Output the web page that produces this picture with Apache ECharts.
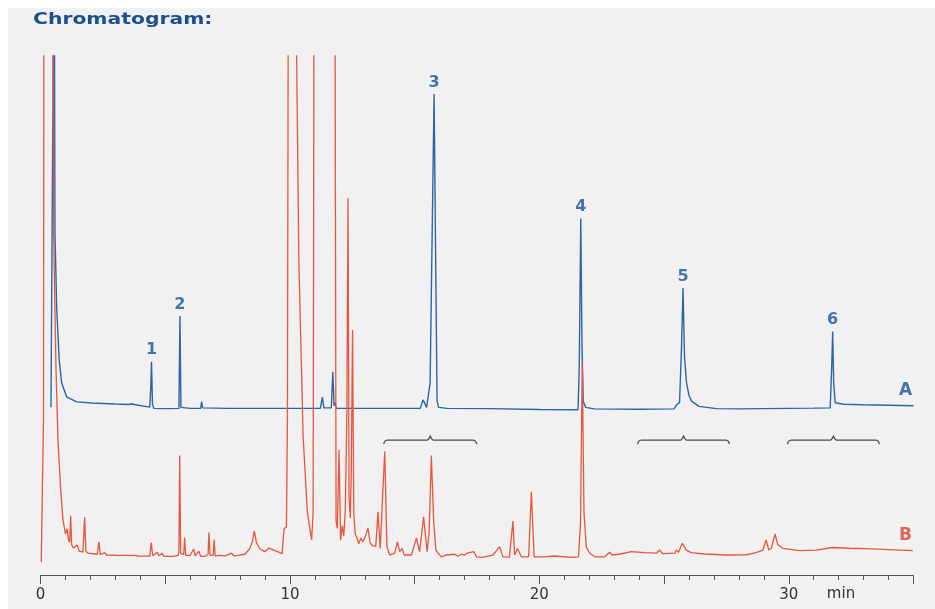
<!DOCTYPE html>
<html><head><meta charset="utf-8">
<script src="https://cdn.jsdelivr.net/npm/echarts@6/dist/echarts.min.js"></script>
<style>html,body{margin:0;padding:0;background:#fff}#c{width:935px;height:609px}</style>
</head><body><div id="c"></div>
<script>
// Trace A (blue): [time (min), signal above its own baseline]
const traceA = [
[0.42,0.3],[0.47,0.3],[0.5,60],[0.53,130],[0.56,130],[0.58,34],[0.65,19.3],[0.75,9.4],[0.85,5.0],[1.05,2.3],[1.45,1.35],[2.05,1.15],[3.0,0.95],[3.55,0.85],[3.65,1.0],[3.8,0.8],[4.38,0.35],[4.42,4],[4.45,9.1],[4.49,0.8],[4.55,0.1],[5.0,0.05],[5.55,0.1],[5.59,17.9],[5.63,0.3],[6.0,0.1],[6.42,0.1],[6.46,1.4],[6.5,0.2],[7.5,0.1],[8.96,0.1],[9.0,0.45],[9.04,0.1],[10.7,0.1],[10.73,0.45],[10.76,0.1],[11.22,0.1],[11.3,2.3],[11.36,0.2],[11.66,0.2],[11.72,7.1],[11.77,0.6],[11.81,1.2],[11.86,0.1],[13.0,0.1],[15.22,0.1],[15.34,1.74],[15.48,0.3],[15.56,0.4],[15.62,5],[15.72,40],[15.78,60.7],[15.84,30],[15.9,1.5],[15.96,0.3],[16.3,0.1],[18.0,0.05],[20.0,-0.1],[21.55,-0.15],[21.6,8],[21.66,36.7],[21.71,12],[21.76,1.4],[21.86,0.3],[22.2,0.0],[24.0,-0.05],[25.4,0.0],[25.5,0.8],[25.55,0.5],[25.62,1.2],[25.7,12],[25.76,23.3],[25.82,10],[25.9,5],[26.0,2.6],[26.1,1.5],[26.4,0.5],[27.1,0.05],[28.0,0.0],[30.0,0.1],[31.0,0.15],[31.66,0.2],[31.72,8],[31.76,14.9],[31.8,5],[31.86,1.2],[32.2,0.9],[33.0,0.8],[34.0,0.7],[35.0,0.6]
];
// Trace B (red): [time (min), signal]
const traceB = [
[0.03,2.5],[0.09,2.6],[0.12,30],[0.14,130],[0.5,130],[0.53,65],[0.62,40],[0.7,26],[0.81,16.4],[0.9,10.6],[1.0,7.9],[1.07,8.9],[1.12,6.8],[1.17,6.3],[1.21,11.4],[1.25,5.8],[1.32,5.2],[1.4,5.0],[1.47,5.8],[1.55,4.6],[1.7,4.4],[1.77,11.1],[1.82,4.6],[1.9,4.2],[2.28,4.0],[2.34,6.4],[2.4,3.9],[2.57,4.3],[2.65,3.85],[3.13,3.8],[3.2,3.7],[3.77,3.8],[3.9,3.66],[4.38,3.65],[4.44,6.25],[4.5,3.7],[4.68,4.4],[4.75,3.7],[4.87,4.2],[4.95,3.6],[5.3,3.6],[5.52,3.8],[5.55,4.6],[5.58,23.0],[5.62,4.2],[5.74,3.9],[5.78,7.2],[5.82,3.8],[6.0,3.8],[6.14,5.0],[6.2,3.7],[6.35,4.6],[6.42,3.6],[6.6,3.6],[6.72,4.0],[6.75,8.2],[6.8,3.8],[6.92,3.8],[6.96,6.8],[7.0,3.7],[7.19,3.8],[7.4,3.7],[7.66,4.2],[7.75,3.7],[7.93,3.8],[8.2,4.0],[8.39,5.1],[8.5,6.5],[8.57,8.5],[8.66,6.2],[8.8,5.0],[8.99,4.5],[9.08,4.8],[9.15,5.2],[9.25,5.0],[9.4,4.7],[9.6,4.3],[9.69,4.1],[9.74,7.5],[9.77,9.0],[9.86,9.2],[9.9,30],[9.94,130],[10.2,130],[10.36,60],[10.53,26.6],[10.7,12],[10.87,6.75],[10.93,12],[10.97,130],[11.8,130],[11.85,10.3],[11.9,9.0],[11.97,24.1],[12.03,6.7],[12.1,9.5],[12.16,7.5],[12.22,12.5],[12.28,30],[12.33,72.6],[12.37,15],[12.42,11],[12.46,20],[12.51,47.2],[12.56,12],[12.62,7.8],[12.67,7.4],[12.76,6.0],[12.84,7.1],[12.93,6.4],[13.02,7.4],[13.13,9.0],[13.22,6.1],[13.33,5.6],[13.44,5.5],[13.53,12.2],[13.62,5.1],[13.69,4.8],[13.8,23.8],[13.89,5.45],[14.0,3.85],[14.2,4.2],[14.31,6.4],[14.4,4.5],[14.5,5.1],[14.58,3.85],[14.87,3.85],[15.07,7.1],[15.2,4.5],[15.36,11.2],[15.5,4.5],[15.58,8.0],[15.67,23.0],[15.76,10.6],[15.85,4.8],[15.94,4.2],[16.07,3.5],[16.27,3.85],[16.6,4.0],[16.73,3.6],[16.87,4.0],[17.0,3.85],[17.1,4.2],[17.37,4.5],[17.48,3.5],[17.7,3.4],[18.14,3.85],[18.41,5.45],[18.54,3.5],[18.8,3.45],[18.94,10.4],[19.01,3.85],[19.12,5.1],[19.17,5.1],[19.28,3.5],[19.57,3.5],[19.68,16.05],[19.79,3.5],[20.2,3.5],[20.61,3.66],[21.28,3.4],[21.57,3.5],[21.65,10],[21.72,41],[21.79,12],[21.88,5.45],[22.02,4.2],[22.22,3.5],[22.62,3.5],[22.82,4.4],[22.91,3.85],[23.2,4.0],[23.69,4.5],[24.22,4.3],[24.69,4.2],[24.82,4.8],[24.95,4.1],[25.43,4.2],[25.49,4.8],[25.58,4.4],[25.73,6.1],[25.89,4.8],[26.09,4.3],[26.62,4.05],[27.5,3.85],[28.3,3.9],[28.69,4.3],[28.96,4.8],[29.09,6.75],[29.2,4.8],[29.3,5.15],[29.45,7.9],[29.56,5.8],[29.76,5.15],[30.43,4.7],[31.1,4.8],[31.76,5.3],[32.43,5.15],[33.1,5.1],[33.77,4.95],[34.97,4.7]
];
const OFFSET_A = 32;
const peakTimes = [4.45, 5.59, 15.78, 21.66, 25.76, 31.76];
const peakNames = ['1', '2', '3', '4', '5', '6'];
const traceNames = ['A', 'B'];
const traceLabelTime = 34.68;
const bracketRanges = [[13.76, 17.49], [23.94, 27.62], [29.95, 33.63]];
const bracketLevel = 26;
const xLabelValues = [0, 10, 20, 30];
const xMin = 0, xMax = 35, yMin = 0, yMax = 100;

const BLUE = '#2d64a8', BLUE_TXT = '#1b5296', RED = '#e8553f', RED_TXT = '#e2402b';

const dataA = traceA.map(p => [p[0], p[1] + OFFSET_A]);
const dataB = traceB.map(p => [p[0], p[1]]);

function valueAt(data, t) {
  for (let i = 1; i < data.length; i++) {
    if (data[i][0] >= t) {
      const a = data[i - 1], b = data[i];
      return a[1] + (b[1] - a[1]) * (t - a[0]) / (b[0] - a[0]);
    }
  }
  return data[data.length - 1][1];
}
function apexNear(data, t) {
  let m = -Infinity;
  data.forEach(p => { if (Math.abs(p[0] - t) < 0.08) m = Math.max(m, p[1]); });
  return m;
}
const peakLabelData = peakTimes.map((t, i) => ({ value: [t, apexNear(dataA, t)], name: peakNames[i] }));

function bracketPath(r) {
  const t0 = r[0], t1 = r[1], tc = (t0 + t1) / 2, L = bracketLevel;
  return [[t0, L - 0.8], [t0 + 0.04, L - 0.25], [t0 + 0.14, L], [tc - 0.12, L], [tc - 0.03, L + 0.45], [tc, L + 0.8], [tc + 0.03, L + 0.45], [tc + 0.12, L], [t1 - 0.14, L], [t1 - 0.04, L - 0.25], [t1, L - 0.8]];
}

const chart = echarts.init(document.getElementById('c'), null, { renderer: 'canvas' });
const series = [
  { type: 'line', data: dataA, showSymbol: false, symbol: 'none', lineStyle: { color: BLUE, width: 1.4 }, z: 3, silent: true, animation: false },
  { type: 'line', data: dataB, showSymbol: false, symbol: 'none', lineStyle: { color: RED, width: 1.3 }, z: 4, silent: true, animation: false },
  {
    type: 'scatter', data: peakLabelData, symbolSize: 1, itemStyle: { color: 'rgba(0,0,0,0)' }, z: 6, silent: true,
    label: { show: true, position: 'top', distance: 3, formatter: p => p.name, color: BLUE_TXT, fontSize: 16, fontWeight: 'bold', fontFamily: 'DejaVu Sans' }
  },
  {
    type: 'scatter', symbolSize: 1, itemStyle: { color: 'rgba(0,0,0,0)' }, z: 6, silent: true,
    data: [
      { value: [traceLabelTime, valueAt(dataA, xMax)], name: traceNames[0], label: { color: BLUE_TXT } },
      { value: [traceLabelTime, valueAt(dataB, xMax)], name: traceNames[1], label: { color: RED_TXT } }
    ],
    label: { show: true, position: 'top', distance: 6, formatter: p => p.name, fontSize: 17, fontWeight: 'bold', fontFamily: 'DejaVu Sans' }
  }
];
bracketRanges.forEach(r => series.push({
  type: 'line', data: bracketPath(r), showSymbol: false, symbol: 'none', smooth: 0.3,
  lineStyle: { color: '#4d4d4d', width: 1.3 }, z: 5, silent: true
}));

chart.setOption({
  animation: false,
  backgroundColor: '#f1f1f1',
  grid: { left: 40.5, right: 21.5, top: 56, bottom: 34, containLabel: false },
  xAxis: {
    type: 'value', min: xMin, max: xMax, interval: 5,
    axisLine: { show: true, onZero: false, lineStyle: { color: '#555', width: 1 } },
    axisTick: { show: true, length: 9, lineStyle: { color: '#555' } },
    minorTick: { show: true, splitNumber: 5, length: 5, lineStyle: { color: '#555' } },
    splitLine: { show: false }, minorSplitLine: { show: false },
    axisLabel: {
      margin: 13, color: '#333', fontSize: 15, fontFamily: 'DejaVu Sans',
      formatter: v => (xLabelValues.indexOf(v) >= 0 ? String(v) : '')
    }
  },
  yAxis: { type: 'value', min: yMin, max: yMax, show: false, splitLine: { show: false } },
  graphic: [
    { type: 'rect', shape: { x: 0, y: 0, width: 935, height: 8 }, style: { fill: '#ffffff' }, silent: true },
    { type: 'rect', shape: { x: 0, y: 0, width: 8, height: 609 }, style: { fill: '#ffffff' }, silent: true },
    { type: 'text', x: 33, y: 12, scaleX: 1.27, style: { text: 'Chromatogram:', fontSize: 16, fontWeight: 'bold', fontFamily: 'DejaVu Sans', fill: '#1c4f8e' }, silent: true },
    { type: 'text', x: 841, y: 594, style: { text: 'min', fontSize: 15, fontFamily: 'DejaVu Sans', fill: '#333', align: 'center', verticalAlign: 'middle' }, silent: true }
  ],
  series: series
});
</script>
</body></html>
